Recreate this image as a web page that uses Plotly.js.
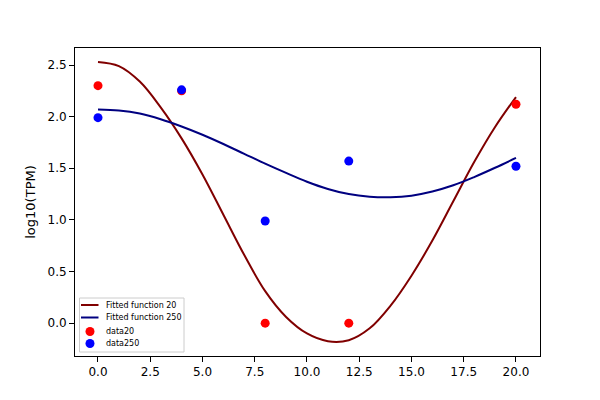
<!DOCTYPE html>
<html>
<head>
<meta charset="utf-8">
<script src="https://cdn.plot.ly/plotly-3.0.1.min.js"></script>
<style>
  body { margin: 0; background: #fff; }
  #chart { width: 600px; height: 400px; }
</style>
</head>
<body>
<div id="chart"></div>
<script>
// values
const curveX = [0, 1, 2, 3, 4, 5, 6, 7, 8, 9, 10, 11, 12, 13, 14, 15, 16, 17, 18, 19, 20];
const fit20 = [2.53, 2.49, 2.34, 2.09, 1.79, 1.44, 1.05, 0.66, 0.31, 0.06, -0.10, -0.175, -0.165, -0.05, 0.17, 0.46, 0.80, 1.18, 1.56, 1.90, 2.19];
const fit250 = [2.07, 2.06, 2.03, 1.975, 1.905, 1.825, 1.735, 1.64, 1.545, 1.455, 1.37, 1.30, 1.25, 1.225, 1.22, 1.235, 1.275, 1.335, 1.415, 1.505, 1.60];

const sampleX = [0, 4, 8, 12, 20];
const data20 = [2.30, 2.25, 0.0, 0.0, 2.12];
const data250 = [1.99, 2.26, 0.99, 1.57, 1.52];

const xTicks = [0, 2.5, 5, 7.5, 10, 12.5, 15, 17.5, 20];
const yTicks = [0, 0.5, 1, 1.5, 2, 2.5];

const seriesNames = ['Fitted function 20', 'Fitted function 250', 'data20', 'data250'];
const seriesColors = ['#800000', '#000080', '#ff0000', '#0000ff'];

const traces = [
    {
        x: curveX, y: fit20, type: 'scatter', mode: 'lines',
        line: { color: seriesColors[0], width: 2, shape: 'spline', smoothing: 1 },
        name: seriesNames[0]
    },
    {
        x: curveX, y: fit250, type: 'scatter', mode: 'lines',
        line: { color: seriesColors[1], width: 2, shape: 'spline', smoothing: 1 },
        name: seriesNames[1]
    },
    {
        x: sampleX, y: data20, type: 'scatter', mode: 'markers',
        marker: { color: seriesColors[2], size: 9 },
        name: seriesNames[2]
    },
    {
        x: sampleX, y: data250, type: 'scatter', mode: 'markers',
        marker: { color: seriesColors[3], size: 9 },
        name: seriesNames[3]
    }
];

const axisStyle = {
    showgrid: false,
    zeroline: false,
    showline: true,
    linecolor: '#000',
    linewidth: 1,
    mirror: true,
    ticks: 'outside',
    ticklen: 5,
    tickcolor: '#000',
    tickformat: '.1f',
    tickfont: { family: 'DejaVu Sans', size: 12, color: '#000' }
};

// plot area in pixels, used to place the hand-made matplotlib-style legend
const M = { l: 75, r: 60, t: 48, b: 44 };
const plotW = 600 - M.l - M.r;
const plotH = 400 - M.t - M.b;
const px = v => (v - M.l) / plotW;
const py = v => (400 - M.b - v) / plotH;

const shapes = [{
    type: 'rect', xref: 'paper', yref: 'paper',
    x0: px(79.5), x1: px(184), y0: py(298), y1: py(352),
    fillcolor: 'rgba(255,255,255,0.8)', line: { color: '#cccccc', width: 1 }
}];
const annotations = [];
const rowY = [305, 317.5, 331.5, 343.5];
seriesNames.forEach((name, i) => {
    if (i < 2) {
        shapes.push({
            type: 'line', xref: 'paper', yref: 'paper',
            x0: px(81), x1: px(98.5), y0: py(rowY[i]), y1: py(rowY[i]),
            line: { color: seriesColors[i], width: 2 }
        });
    } else {
        shapes.push({
            type: 'circle', xref: 'paper', yref: 'paper',
            xsizemode: 'pixel', ysizemode: 'pixel',
            xanchor: px(90), yanchor: py(rowY[i]),
            x0: -4.5, x1: 4.5, y0: -4.5, y1: 4.5,
            fillcolor: seriesColors[i], line: { width: 0 }
        });
    }
    annotations.push({
        xref: 'paper', yref: 'paper', x: px(104), y: py(rowY[i]),
        xanchor: 'left', yanchor: 'middle', showarrow: false,
        text: name, font: { family: 'DejaVu Sans', size: 8, color: '#000' }
    });
});

const layout = {
    width: 600,
    height: 400,
    paper_bgcolor: '#fff',
    plot_bgcolor: '#fff',
    font: { family: 'DejaVu Sans', size: 12, color: '#000' },
    margin: M,
    xaxis: Object.assign({}, axisStyle, {
        range: [-1.1, 21.15],
        tickvals: xTicks
    }),
    yaxis: Object.assign({}, axisStyle, {
        range: [-0.318, 2.665],
        tickvals: yTicks,
        title: { text: 'log10(TPM)', font: { family: 'DejaVu Sans', size: 13, color: '#000' }, standoff: 8 }
    }),
    showlegend: false,
    shapes: shapes,
    annotations: annotations
};

Plotly.newPlot('chart', traces, layout, { displayModeBar: false, staticPlot: true });
</script>
</body>
</html>
